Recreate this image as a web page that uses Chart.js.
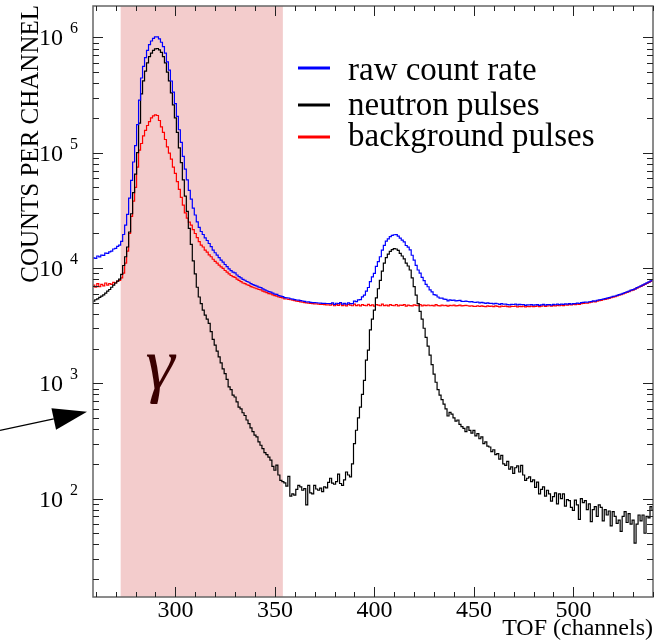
<!DOCTYPE html>
<html>
<head>
<meta charset="utf-8">
<script src="https://cdn.jsdelivr.net/npm/chart.js@4.4.0/dist/chart.umd.min.js"></script>
<style>
  html, body { margin: 0; padding: 0; background: #fff; }
  #wrap { width: 664px; height: 643px; }
</style>
</head>
<body>
<div id="wrap"><canvas id="tof" width="664" height="643"></canvas></div>
<script>
// one bin per TOF channel, first bin is channel 258
const firstChannel = 258;

const rawCounts = [
  11970, 12250, 12100, 12700, 12450, 12900, 12850, 13450, 13400, 13800,
  14000, 14600, 14800, 15400, 15800, 17000, 19500, 23500, 29200, 40400,
  57500, 83000, 115000, 175000, 285000, 444000, 560000, 666000, 772000, 866000,
  930000, 978000, 1008000, 1010000, 970000, 907000, 830000, 730000, 612000, 519000,
  418000, 335000, 266000, 206000, 158000, 123000, 93000, 72000, 58000, 47000,
  39500, 33000, 28800, 25100, 22500, 20700, 19500, 18200, 17300, 16300,
  15300, 14300, 13540, 12900, 12290, 11700, 11230, 10710, 10280, 9830,
  9480, 9190, 9060, 8690, 8420, 8200, 7955, 7825, 7630, 7517,
  7310, 7180, 7055, 6942, 6810, 6740, 6571, 6450, 6340, 6229,
  6165, 6040, 5936, 5895, 5760, 5694, 5640, 5537, 5508, 5486,
  5405, 5360, 5307, 5270, 5250, 5206, 5168, 5122, 5068, 5080,
  5032, 5010, 5010, 4991, 4968, 4953, 4935, 4926, 4914, 4918,
  4910, 4986, 4833, 4940, 4903, 5015, 4850, 4935, 4850, 4980,
  4904, 4900, 5160, 5111, 5280, 5310, 5610, 5800, 6290, 6770,
  7620, 8380, 8960, 10300, 11350, 12500, 14250, 15720, 17060, 17890,
  18700, 19140, 19400, 19420, 18880, 18160, 17430, 16800, 15660, 15150,
  14320, 12890, 11690, 10540, 9600, 9020, 8280, 7750, 7210, 6870,
  6450, 6190, 5880, 5820, 5600, 5480, 5480, 5360, 5340, 5190,
  5290, 5240, 5260, 5180, 5200, 5227, 5120, 5116, 5150, 5118,
  5078, 5100, 5040, 5018, 5065, 4985, 5022, 4980, 4920, 4980,
  4920, 4931, 4880, 4935, 4890, 4837, 4907, 4845, 4854, 4804,
  4790, 4838, 4818, 4855, 4792, 4834, 4814, 4820, 4744, 4790,
  4774, 4814, 4755, 4779, 4800, 4730, 4780, 4826, 4758, 4798,
  4810, 4763, 4824, 4795, 4848, 4810, 4865, 4830, 4876, 4848,
  4896, 4860, 4909, 4897, 4955, 4917, 5000, 5018, 5056, 5043,
  5090, 5113, 5180, 5165, 5247, 5288, 5324, 5372, 5420, 5479,
  5528, 5600, 5657, 5710, 5781, 5865, 5925, 6020, 6127, 6205,
  6304, 6420, 6495, 6591, 6740, 6872, 7000, 7132, 7270, 7420,
  7568, 7735, 7880
];

const neutronCounts = [
  5070, 5150, 5300, 5400, 5550, 5700, 5850, 6050, 6300, 6500,
  6800, 7100, 7400, 7700, 8000, 8800, 10500, 12500, 15200, 20500,
  29500, 45000, 65000, 100000, 180000, 324000, 420000, 510000, 600000, 680000,
  730000, 770000, 795000, 800000, 780000, 740000, 680000, 600000, 500000, 420000,
  330000, 260000, 200000, 150000, 110000, 82000, 58000, 42000, 31000, 22000,
  16000, 11500, 8900, 6800, 5600, 4900, 4300, 3900, 3600, 3300,
  2800, 2400, 2140, 1900, 1690, 1500, 1330, 1210, 1080, 930,
  880, 790, 760, 690, 620, 600, 555, 525, 480, 447,
  410, 380, 355, 342, 310, 290, 271, 250, 240, 229,
  215, 190, 176, 195, 160, 144, 140, 137, 128, 156,
  105, 110, 107, 120, 130, 126, 118, 122, 88, 130,
  112, 110, 130, 121, 118, 123, 115, 126, 124, 138,
  150, 136, 133, 140, 163, 135, 130, 145, 170, 160,
  154, 200, 300, 391, 500, 620, 800, 1060, 1590, 1940,
  2900, 3600, 4300, 5500, 6600, 7800, 9400, 11000, 12300, 13200,
  13900, 14400, 14700, 14600, 14200, 13400, 12700, 12000, 11000, 10400,
  9600, 8200, 6900, 5800, 4900, 4200, 3600, 3000, 2500, 2100,
  1750, 1450, 1200, 1020, 880, 790, 720, 660, 600, 520,
  560, 540, 500, 470, 480, 440, 420, 406, 380, 418,
  390, 370, 390, 350, 365, 330, 342, 300, 310, 285,
  280, 255, 265, 240, 245, 220, 237, 200, 194, 210,
  180, 188, 165, 185, 192, 170, 194, 160, 144, 150,
  154, 140, 145, 125, 139, 110, 120, 126, 105, 118,
  110, 95, 104, 112, 90, 110, 100, 110, 86, 98,
  96, 84, 79, 97, 88, 66, 100, 92, 96, 80,
  90, 63, 80, 85, 70, 88, 84, 64, 80, 72,
  78, 58, 77, 70, 61, 65, 52, 70, 77, 62,
  74, 60, 65, 41, 60, 72, 64, 72, 50, 70,
  68, 85, 80
];

const backgroundCounts = [
  6900, 7100, 6800, 7300, 6900, 7200, 7000, 7400, 7100, 7300,
  7200, 7500, 7400, 7700, 7800, 8200, 9000, 11000, 14000, 19900,
  28000, 38000, 50000, 75000, 105000, 120000, 140000, 156000, 172000, 186000,
  200000, 208000, 213000, 210000, 190000, 167000, 150000, 130000, 112000, 99000,
  88000, 75000, 66000, 56000, 48000, 41000, 35000, 30000, 27000, 25000,
  23500, 21500, 19900, 18300, 16900, 15800, 15200, 14300, 13700, 13000,
  12500, 11900, 11400, 11000, 10600, 10200, 9900, 9500, 9200, 8900,
  8600, 8400, 8300, 8000, 7800, 7600, 7400, 7300, 7150, 7070,
  6900, 6800, 6700, 6600, 6500, 6450, 6300, 6200, 6100, 6000,
  5950, 5850, 5760, 5700, 5600, 5550, 5500, 5400, 5380, 5330,
  5300, 5250, 5200, 5150, 5120, 5080, 5050, 5000, 4980, 4950,
  4920, 4900, 4880, 4870, 4850, 4830, 4820, 4800, 4790, 4780,
  4760, 4850, 4700, 4800, 4740, 4880, 4720, 4790, 4680, 4820,
  4750, 4700, 4860, 4720, 4780, 4690, 4810, 4740, 4700, 4830,
  4720, 4780, 4660, 4800, 4750, 4700, 4850, 4720, 4760, 4690,
  4800, 4740, 4700, 4820, 4680, 4760, 4730, 4800, 4660, 4750,
  4720, 4690, 4790, 4740, 4700, 4820, 4680, 4750, 4710, 4770,
  4700, 4740, 4680, 4800, 4720, 4690, 4760, 4700, 4740, 4670,
  4730, 4700, 4760, 4690, 4720, 4750, 4680, 4710, 4740, 4700,
  4660, 4700, 4650, 4640, 4700, 4630, 4680, 4650, 4620, 4690,
  4640, 4660, 4620, 4690, 4650, 4600, 4670, 4630, 4660, 4610,
  4600, 4650, 4630, 4670, 4600, 4640, 4620, 4660, 4600, 4640,
  4620, 4660, 4610, 4640, 4680, 4620, 4660, 4700, 4640, 4680,
  4700, 4660, 4720, 4690, 4740, 4700, 4760, 4720, 4780, 4750,
  4800, 4770, 4830, 4800, 4860, 4840, 4900, 4920, 4960, 4940,
  5000, 5050, 5100, 5080, 5160, 5200, 5240, 5300, 5340, 5400,
  5450, 5520, 5580, 5640, 5720, 5800, 5870, 5950, 6050, 6130,
  6230, 6350, 6430, 6550, 6680, 6800, 6930, 7060, 7200, 7350,
  7500, 7650, 7800
];

const seriesNames = ["raw count rate", "neutron pulses", "background pulses"];
const seriesColors = ["#0000ff", "#000000", "#ff0000"];

const xTickLabels = [300, 350, 400, 450, 500];
const yTickExponents = [2, 3, 4, 5, 6];
const gammaWindow = [272.5, 354];
const arrowLevel = 565;

const serif = "'Liberation Serif', 'Times New Roman', serif";

function toPoints(arr) {
  return arr.map((v, i) => ({ x: firstChannel + i, y: v }));
}

const decor = {
  id: "decor",
  beforeDatasetsDraw(chart) {
    const { ctx, chartArea: a, scales: { x } } = chart;
    const x0 = x.getPixelForValue(gammaWindow[0]);
    const x1 = x.getPixelForValue(gammaWindow[1]);
    ctx.save();
    ctx.fillStyle = "#f3cccc";
    ctx.fillRect(x0, a.top, x1 - x0, a.bottom - a.top);
    ctx.restore();
  },
  afterDatasetsDraw(chart) {
    const { ctx, chartArea: a, scales: { x, y } } = chart;
    ctx.save();

    // frame
    ctx.strokeStyle = "#666";
    ctx.lineWidth = 1.5;
    ctx.strokeRect(a.left, a.top, a.right - a.left, a.bottom - a.top);

    // x ticks, top and bottom
    ctx.strokeStyle = "#222";
    ctx.lineWidth = 1;
    ctx.beginPath();
    for (let v = 260; v <= 540; v += 10) {
      const px = Math.round(x.getPixelForValue(v)) + 0.5;
      const len = v % 50 === 0 ? 10 : 5;
      ctx.moveTo(px, a.bottom); ctx.lineTo(px, a.bottom - len);
      ctx.moveTo(px, a.top); ctx.lineTo(px, a.top + len);
    }
    // y ticks, left and right
    for (let d = 1; d <= 6; d++) {
      for (let m = 1; m <= 9; m++) {
        const v = m * Math.pow(10, d);
        if (v < y.min || v > y.max) continue;
        const py = Math.round(y.getPixelForValue(v)) + 0.5;
        const len = m === 1 ? 10 : 6;
        ctx.moveTo(a.left, py); ctx.lineTo(a.left + len, py);
        ctx.moveTo(a.right, py); ctx.lineTo(a.right - len, py);
      }
    }
    ctx.stroke();

    // tick labels
    ctx.fillStyle = "#000";
    ctx.font = "24px " + serif;
    ctx.textAlign = "center";
    ctx.textBaseline = "alphabetic";
    xTickLabels.forEach(v => {
      ctx.fillText(String(v), x.getPixelForValue(v), a.bottom + 20);
    });
    yTickExponents.forEach(e => {
      const py = y.getPixelForValue(Math.pow(10, e));
      ctx.font = "24px " + serif;
      ctx.textAlign = "right";
      ctx.fillText("10", a.left - 30, py + 8);
      ctx.font = "16px " + serif;
      ctx.textAlign = "left";
      ctx.fillText(String(e), a.left - 23, py - 4);
    });

    // axis titles
    ctx.font = "24px " + serif;
    ctx.textAlign = "right";
    ctx.fillText("TOF (channels)", a.right, a.bottom + 38);
    ctx.save();
    ctx.translate(38, a.top - 1);
    ctx.rotate(-Math.PI / 2);
    ctx.font = "25px " + serif;
    ctx.textAlign = "right";
    ctx.fillText("COUNTS PER CHANNEL", 0, 0);
    ctx.restore();

    // legend
    const legY = [68, 105, 137];
    const legBase = [80, 115, 146];
    ctx.font = "33px " + serif;
    ctx.textAlign = "left";
    seriesNames.forEach((name, i) => {
      ctx.strokeStyle = seriesColors[i];
      ctx.lineWidth = 3;
      ctx.beginPath();
      ctx.moveTo(298, legY[i]); ctx.lineTo(330, legY[i]);
      ctx.stroke();
      ctx.fillStyle = "#000";
      ctx.fillText(name, 348, legBase[i]);
    });

    // gamma label in the shaded window
    ctx.fillStyle = "#3a0000";
    ctx.font = "italic 74px " + serif;
    ctx.textAlign = "center";
    ctx.fillText("γ", 160, 388);

    // arrow pointing at the axis
    const tipX = a.left - 6;
    const tipY = y.getPixelForValue(arrowLevel);
    const sx = 0, sy = tipY + 18.5;
    const ang = Math.atan2(tipY - sy, tipX - sx);
    const hl = 34, hw = 11;
    const bx = tipX - hl * Math.cos(ang), by = tipY - hl * Math.sin(ang);
    ctx.strokeStyle = "#000";
    ctx.lineWidth = 1.3;
    ctx.beginPath();
    ctx.moveTo(sx, sy); ctx.lineTo(bx, by);
    ctx.stroke();
    ctx.fillStyle = "#000";
    ctx.beginPath();
    ctx.moveTo(tipX, tipY);
    ctx.lineTo(bx - hw * Math.sin(ang), by + hw * Math.cos(ang));
    ctx.lineTo(bx + hw * Math.sin(ang), by - hw * Math.cos(ang));
    ctx.closePath();
    ctx.fill();

    ctx.restore();
  }
};

new Chart(document.getElementById("tof"), {
  type: "line",
  data: {
    datasets: [
      { label: seriesNames[0], data: toPoints(rawCounts), borderColor: seriesColors[0] },
      { label: seriesNames[1], data: toPoints(neutronCounts), borderColor: seriesColors[1] },
      { label: seriesNames[2], data: toPoints(backgroundCounts), borderColor: seriesColors[2] },
    ],
  },
  options: {
    responsive: false,
    animation: false,
    layout: { padding: { left: 93, right: 11, top: 6, bottom: 46 } },
    plugins: { legend: { display: false }, tooltip: { enabled: false } },
    elements: {
      point: { radius: 0 },
      line: { borderWidth: 1.2, stepped: "middle", tension: 0 },
    },
    scales: {
      x: { type: "linear", min: 258.6, max: 540, display: false },
      y: { type: "logarithmic", min: 14, max: 1.87e6, display: false },
    },
  },
  plugins: [decor],
});
</script>
</body>
</html>
